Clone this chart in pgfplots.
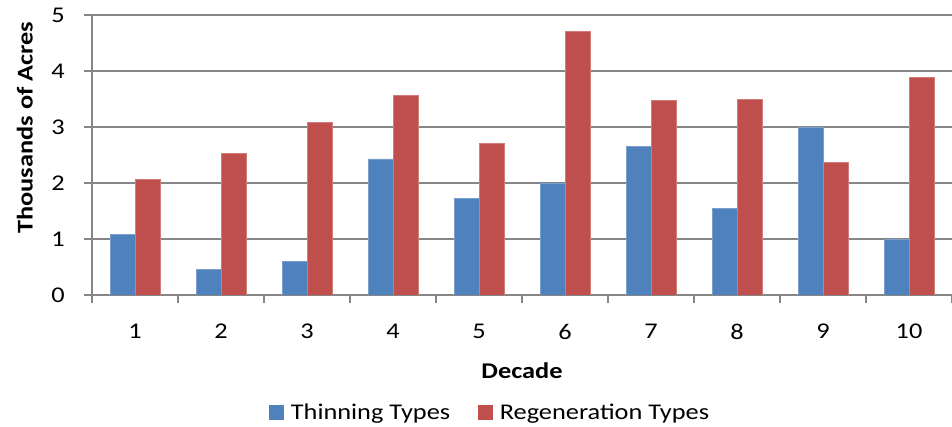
\documentclass[border=0pt]{standalone}
\usepackage{fontspec}
\setmainfont{Carlito}[FakeStretch=1.17]
\usepackage{pgfplots}
\pgfplotsset{compat=1.18}
\definecolor{blu}{HTML}{4F81BD}
\definecolor{rd}{HTML}{C0504D}
\definecolor{gridc}{HTML}{868686}
\begin{document}
\begin{tikzpicture}[x=1pt,y=1pt]
\useasboundingbox (0,0) rectangle (952,427);
\begin{axis}[
  at={(92pt,132pt)}, anchor=south west,
  scale only axis, width=860pt, height=280pt,
  ybar=0pt, bar width=25pt,
  xmin=0.5, xmax=10.5, ymin=0, ymax=5,
  axis x line*=bottom, axis y line*=left,
  axis line style={gridc, line width=1.1pt},
  ytick={0,1,2,3,4,5},
  ymajorgrids, grid style={gridc, line width=1.1pt},
  tick align=outside,
  major tick length=8pt,
  every tick/.style={gridc, line width=1.1pt},
  xtick={0.5,1.5,2.5,3.5,4.5,5.5,6.5,7.5,8.5,9.5,10.5},
  xticklabels={},
  extra x ticks={1,2,3,4,5,6,7,8,9,10},
  extra x tick labels={1,2,3,4,5,6,7,8,9,10},
  extra x tick style={major tick length=0pt, xticklabel shift=29pt},
  /pgf/number format/assume math mode=true,
  tick label style={font=\fontsize{22.5}{27}\selectfont, inner sep=0pt},
  yticklabel shift=19pt,
  xlabel={\textbf{Decade}},
  ylabel={\textbf{Thousands of Acres}},
  label style={font=\fontsize{22.5}{27}\selectfont},
  xlabel style={at={(axis description cs:0.5,-0.272)}, anchor=center},
  ylabel style={at={(axis description cs:-0.078,0.598)}, anchor=center},
  legend columns=2,
  legend style={draw=none, at={(axis description cs:0.463,-0.418)}, anchor=center,
    font=\fontsize{22.5}{27}\selectfont,
    /tikz/every odd column/.append style={column sep=5pt},
    /tikz/every even column/.append style={column sep=26pt}},
]
\addplot[fill=blu, draw=blu!75!white, line width=0.6pt, legend image code/.code={\fill[blu] (0pt,-7pt) rectangle (14pt,7pt);}]
  coordinates {(1,1.08) (2,0.46) (3,0.60) (4,2.43) (5,1.73) (6,2.00) (7,2.65) (8,1.55) (9,2.99) (10,0.99)};
\addlegendentry{Thinning Types}
\addplot[fill=rd, draw=rd!75!white, line width=0.6pt, legend image code/.code={\fill[rd] (0pt,-7pt) rectangle (14pt,7pt);}]
  coordinates {(1,2.07) (2,2.53) (3,3.08) (4,3.57) (5,2.70) (6,4.70) (7,3.48) (8,3.49) (9,2.37) (10,3.88)};
\addlegendentry{Regeneration Types}
\end{axis}
\end{tikzpicture}
\end{document}
